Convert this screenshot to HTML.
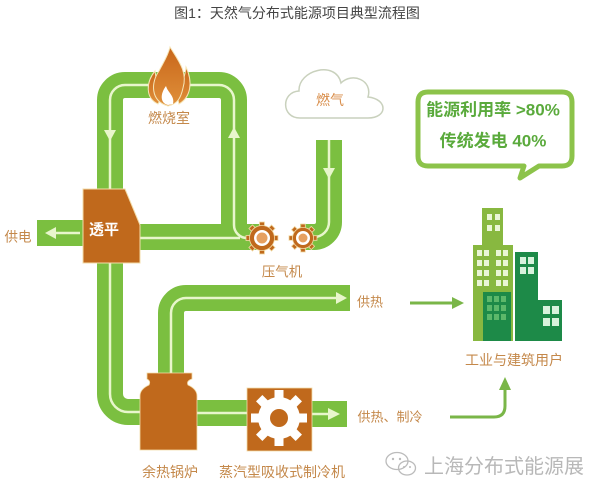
<!DOCTYPE html>
<html><head><meta charset="utf-8"><style>
html,body{margin:0;padding:0;background:#fff;}
svg{display:block;}
text{font-family:"Liberation Sans","Noto Sans CJK SC",sans-serif;}
</style></head><body>
<svg width="606" height="485" viewBox="0 0 606 485" xmlns="http://www.w3.org/2000/svg">
<rect width="606" height="485" fill="#fff"/>
<text x="297" y="13" font-size="14" fill="#444" text-anchor="middle" dominant-baseline="central">图1：天然气分布式能源项目典型流程图</text>

<!-- pipes -->
<g fill="none" stroke="#7bbf40" stroke-width="26">
<path d="M234,240 V100 A15 15 0 0 0 219,85 H125 A15 15 0 0 0 110,100 V394 A18 18 0 0 0 128,412 H146"/>
<path d="M140,237 H262"/>
<path d="M329,140 V222 A15 15 0 0 1 314,237 H300"/>
<path d="M171,378 V313 A15 15 0 0 1 186,298 H350"/>
<path d="M195,413 H250"/>
<path d="M310,414 H347"/>
<path d="M37,233 H85"/>
</g>
<!-- light lines -->
<g fill="none" stroke="#e8f6cc" stroke-width="2.5">
<path d="M234,225 V100 A15 15 0 0 0 219,85 H125 A15 15 0 0 0 110,100 V394 A18 18 0 0 0 128,412 H144"/>
<path d="M234,225 A13 13 0 0 0 247,238 H252"/>
<path d="M140,238 H240"/>
<path d="M329,140 V222 A15 15 0 0 1 314,237 H304"/>
<path d="M171,376 V313 A15 15 0 0 1 186,298 H338"/>
<path d="M197,413 H247"/>
<path d="M312,414 H330"/>
<path d="M80,233 H55"/>
</g>
<g fill="#e8f6cc">
<polygon points="104,130 116,130 110,141"/>
<polygon points="228,138 240,138 234,127"/>
<polygon points="323,168 335,168 329,179"/>
<polygon points="336,292 336,304 347,298"/>
<polygon points="328,408 328,420 340,414"/>
<polygon points="56,227 56,239 45,233"/>
</g>

<!-- flame -->
<defs>
<linearGradient id="fl" x1="0" y1="0" x2="0" y2="1">
<stop offset="0" stop-color="#c8661a"/><stop offset="1" stop-color="#e0903a"/>
</linearGradient>
</defs>
<g fill="url(#fl)" stroke="#f6e6b8" stroke-width="1">
<path d="M158,104 C145,98 146,82 155,71 C156,82 160,88 163,95 Z"/>
<path d="M179,104 C191,97 193,82 186,67 C185,78 181,86 176,92 Z"/>
<path d="M168,106 C150,101 151,82 159,71 C163,63 168,56 170,47 C178,60 188,72 183,88 C181,97 178,104 168,106 Z"/>
</g>
<path d="M168,105 C160,103 160,94 166,86 C168,93 175,96 173,104 Z" fill="#fff"/>
<text x="169" y="118" font-size="14" fill="#c4884a" text-anchor="middle" dominant-baseline="central">燃烧室</text>

<!-- cloud -->
<path d="M300,118 C281,118 281,92 299,91 C298,70 336,60 341,83 C352,72 373,80 368,97 C388,99 388,118 368,118 Z" fill="#fff" stroke="#c9d1bd" stroke-width="1.5"/>
<text x="330" y="100" font-size="14" fill="#d88c48" text-anchor="middle" dominant-baseline="central">燃气</text>

<!-- speech box -->
<path d="M428,92 H562 Q572,92 572,102 V156 Q572,166 562,166 H539 L520,178 L524,166 H428 Q418,166 418,156 V102 Q418,92 428,92 Z" fill="#fff" stroke="#8cc34a" stroke-width="5" stroke-linejoin="round"/>
<text x="493" y="110" font-size="17" font-weight="bold" fill="#5aaa3c" text-anchor="middle" dominant-baseline="central">能源利用率 &gt;80%</text>
<text x="493" y="141" font-size="17" font-weight="bold" fill="#5aaa3c" text-anchor="middle" dominant-baseline="central">传统发电 40%</text>

<!-- turbine -->
<polygon points="83,189 125,189 140,225 140,263 83,263" fill="#c0691c" stroke="#f3dca8" stroke-width="1"/>
<text x="104" y="230" font-size="15" font-weight="bold" fill="#fff" text-anchor="middle" dominant-baseline="central">透平</text>
<text x="18" y="237" font-size="13.5" fill="#c4884a" text-anchor="middle" dominant-baseline="central">供电</text>

<!-- compressor gears -->
<g fill="#c0691c" stroke="#f3dca8" stroke-width="0.8">
<g transform="translate(262,238)">
<rect x="-2.5" y="-16" width="5" height="32"/>
<rect x="-2.5" y="-16" width="5" height="32" transform="rotate(45)"/>
<rect x="-2.5" y="-16" width="5" height="32" transform="rotate(90)"/>
<rect x="-2.5" y="-16" width="5" height="32" transform="rotate(135)"/>
<circle r="12.5"/>
</g>
<g transform="translate(303,238)">
<rect x="-2.3" y="-14" width="4.6" height="28"/>
<rect x="-2.3" y="-14" width="4.6" height="28" transform="rotate(45)"/>
<rect x="-2.3" y="-14" width="4.6" height="28" transform="rotate(90)"/>
<rect x="-2.3" y="-14" width="4.6" height="28" transform="rotate(135)"/>
<circle r="10.5"/>
</g>
</g>
<circle cx="262" cy="238" r="8" fill="#fff"/>
<circle cx="262" cy="238" r="5.5" fill="#e6a060"/>
<circle cx="303" cy="238" r="7" fill="#fff"/>
<circle cx="303" cy="238" r="4.5" fill="#e6a060"/>
<text x="282" y="272" font-size="13.5" fill="#c4884a" text-anchor="middle" dominant-baseline="central">压气机</text>

<!-- heat labels / arrows -->
<text x="370" y="302" font-size="13" fill="#c4884a" text-anchor="middle" dominant-baseline="central">供热</text>
<line x1="410" y1="303" x2="454" y2="303" stroke="#7ab648" stroke-width="3"/>
<polygon points="452,297 452,309 464,303" fill="#7ab648"/>
<text x="390" y="417" font-size="13" fill="#c4884a" text-anchor="middle" dominant-baseline="central">供热、制冷</text>
<path d="M450,417 H494 Q505,417 505,406 V388" fill="none" stroke="#7ab648" stroke-width="3"/>
<polygon points="499,390 511,390 505,377" fill="#7ab648"/>

<!-- buildings -->
<rect x="482" y="208" width="21" height="40" fill="#88b840"/>
<rect x="473" y="245" width="40" height="96" fill="#88b840"/>
<rect x="515" y="252" width="23" height="89" fill="#1d8a48"/>
<rect x="538" y="300" width="24" height="41" fill="#1d8a48"/>
<rect x="483" y="292" width="28" height="49" fill="#1d8a48"/>
<g fill="#eaf6d6">
<rect x="487" y="214" width="5" height="6"/><rect x="495" y="214" width="5" height="6"/>
<rect x="487" y="225" width="5" height="6"/><rect x="495" y="225" width="5" height="6"/>
<rect x="477" y="250" width="5" height="6"/><rect x="484" y="250" width="5" height="6"/><rect x="496" y="250" width="5" height="6"/><rect x="503" y="250" width="5" height="6"/>
<rect x="477" y="260" width="5" height="6"/><rect x="484" y="260" width="5" height="6"/><rect x="496" y="260" width="5" height="6"/><rect x="503" y="260" width="5" height="6"/>
<rect x="477" y="270" width="5" height="6"/><rect x="484" y="270" width="5" height="6"/><rect x="496" y="270" width="5" height="6"/><rect x="503" y="270" width="5" height="6"/>
<rect x="477" y="280" width="5" height="6"/><rect x="484" y="280" width="5" height="6"/><rect x="496" y="280" width="5" height="6"/><rect x="503" y="280" width="5" height="6"/>
</g>
<g fill="#d8f2dc">
<rect x="520" y="257" width="6" height="7"/><rect x="528" y="257" width="6" height="7"/>
<rect x="520" y="267" width="6" height="7"/><rect x="528" y="267" width="6" height="7"/>
<rect x="543" y="306" width="7" height="8"/><rect x="552" y="306" width="7" height="8"/>
<rect x="543" y="318" width="7" height="8"/><rect x="552" y="318" width="7" height="8"/>
</g>
<g fill="#5cb86a">
<rect x="487" y="296" width="5" height="6"/><rect x="494" y="296" width="5" height="6"/><rect x="501" y="296" width="5" height="6"/>
<rect x="487" y="305" width="5" height="6"/><rect x="494" y="305" width="5" height="6"/><rect x="501" y="305" width="5" height="6"/>
<rect x="487" y="314" width="5" height="6"/><rect x="494" y="314" width="5" height="6"/><rect x="501" y="314" width="5" height="6"/>
</g>
<text x="514" y="360" font-size="14" fill="#c4884a" text-anchor="middle" dominant-baseline="central">工业与建筑用户</text>

<!-- boiler -->
<path d="M147,373 H192 V379 Q186,381 188,385 Q197,389 197,396 V450 H140 V396 Q140,389 149,385 Q151,381 147,379 Z" fill="#c0691c" stroke="#f3dca8" stroke-width="0.8"/>
<!-- chiller -->
<rect x="247" y="388" width="65" height="63" fill="#c0691c" stroke="#f3dca8" stroke-width="0.8"/>
<g fill="#fff" transform="translate(279,418)">
<rect x="-4.5" y="-28" width="9" height="56"/>
<rect x="-4.5" y="-28" width="9" height="56" transform="rotate(45)"/>
<rect x="-4.5" y="-28" width="9" height="56" transform="rotate(90)"/>
<rect x="-4.5" y="-28" width="9" height="56" transform="rotate(135)"/>
<circle r="21"/>
</g>
<circle cx="279" cy="418" r="9" fill="#c0691c"/>
<text x="170" y="472" font-size="14" fill="#c4884a" text-anchor="middle" dominant-baseline="central">余热锅炉</text>
<text x="282" y="472" font-size="14" fill="#c4884a" text-anchor="middle" dominant-baseline="central">蒸汽型吸收式制冷机</text>

<!-- watermark -->
<g fill="none" stroke="#bbb" stroke-width="1.3">
<ellipse cx="397" cy="461" rx="11" ry="8.5"/>
<ellipse cx="407" cy="468" rx="8.5" ry="7"/>
</g>
<g fill="#bbb">
<circle cx="393" cy="459" r="1.2"/><circle cx="400" cy="459" r="1.2"/>
<circle cx="404" cy="467" r="1"/><circle cx="410" cy="467" r="1"/>
</g>
<text x="504" y="467" font-size="20" fill="#b8b8b8" text-anchor="middle" dominant-baseline="central">上海分布式能源展</text>
</svg>
</body></html>
